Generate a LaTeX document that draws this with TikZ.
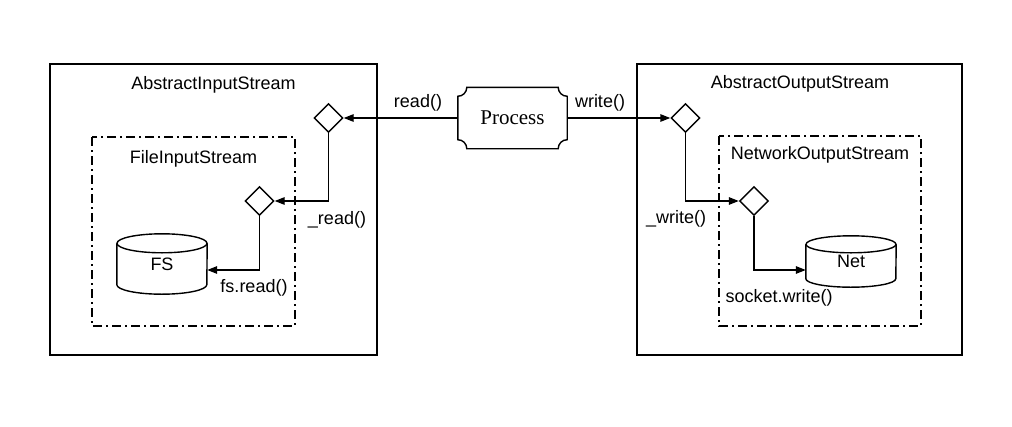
\documentclass[tikz,border=0pt]{standalone}
\usepackage{fontspec}
\setmainfont{Liberation Sans}
\newfontfamily\procfont{Liberation Serif}
\usetikzlibrary{shapes.geometric,arrows.meta}
\begin{document}
\begin{tikzpicture}[x=1pt,y=-1pt,
  box/.style={draw,line width=1.4pt},
  innerbox/.style={draw,line width=1.3pt,dash pattern=on 9pt off 4pt on 2pt off 4pt},
  dia/.style={diamond,draw,line width=1.4pt,minimum width=29pt,minimum height=29pt,inner sep=0pt},
  lbl/.style={font=\fontsize{18}{21}\selectfont,inner sep=0pt},
  conn/.style={line width=1.4pt,-{Triangle[length=10pt,width=7.5pt]}},
  cyl/.style={inner sep=0pt,minimum width=90pt,font=\fontsize{18}{21}\selectfont},
]
\useasboundingbox (0,0) rectangle (1012,426);
% outer boxes
\draw[box] (50,64) rectangle (377,355);
\draw[box] (637,64) rectangle (962,355);
% inner boxes
\draw[innerbox] (92,137) rectangle (295,326);
\draw[innerbox] (719,136) rectangle (921,326);
% titles
\node[lbl] (tain) at (213.5,85) {AbstractInputStream};
\node[lbl] (taout) at (800,84) {AbstractOutputStream};
\node[lbl] (tfin) at (193.5,159) {FileInputStream};
\node[lbl] (tnout) at (820,155) {NetworkOutputStream};
% process
\node[inner sep=0pt,minimum width=109pt,minimum height=61pt,font=\procfont\fontsize{21}{25}\selectfont] (proc) at (512.5,118) {Process};
\draw[line width=1.4pt] ([xshift=9pt]proc.north west) -- ([xshift=-9pt]proc.north east)
  arc(180:270:9pt) -- ([yshift=9pt]proc.south east)
  arc(90:180:9pt) -- ([xshift=9pt]proc.south west)
  arc(0:90:9pt) -- ([yshift=-9pt]proc.north west)
  arc(270:360:9pt) -- cycle;
% diamonds
\node[dia] (d1) at (328.5,118) {};
\node[dia] (d2) at (259.5,201) {};
\node[dia] (d3) at (685.5,118) {};
\node[dia] (d4) at (754,201) {};
% cylinders
\node[cyl,minimum height=60pt] (fs) at (162,264) {\raisebox{-5pt}{FS}};
\draw[box] ([yshift=-9.5pt]fs.north west) -- ([yshift=9.5pt]fs.south west)
  arc(180:360:45pt and 9.5pt) -- ([yshift=-9.5pt]fs.north east);
\draw[box] ([yshift=-9.5pt]fs.north) ellipse [x radius=45pt, y radius=9.5pt];
\node[cyl,minimum height=51pt] (net) at (851,261.5) {\raisebox{-7.5pt}{Net}};
\draw[box] ([yshift=-8.5pt]net.north west) -- ([yshift=8.5pt]net.south west)
  arc(180:360:45pt and 8.5pt) -- ([yshift=-8.5pt]net.north east);
\draw[box] ([yshift=-8.5pt]net.north) ellipse [x radius=45pt, y radius=8.5pt];
% connectors
\draw[conn] (proc.west) -- (d1.east);
\draw[conn] (proc.east) -- (d3.west);
\draw[conn] (d1.south) |- (d2.east);
\draw[conn] (d3.south) |- (d4.west);
\draw[conn] (d2.south) |- ([yshift=-6pt]fs.east);
\draw[conn] (d4.south) |- ([yshift=-8.5pt]net.west);
% labels
\node[lbl] (lread) at (418,103) {read()};
\node[lbl] (lwrite) at (600,103) {write()};
\node[lbl] (l_read) at (337,220) {\_read()};
\node[lbl] (l_write) at (676,219) {\_write()};
\node[lbl] (lfs) at (254,288) {fs.read()};
\node[lbl] (lsock) at (779,298) {socket.write()};
\end{tikzpicture}
\end{document}
